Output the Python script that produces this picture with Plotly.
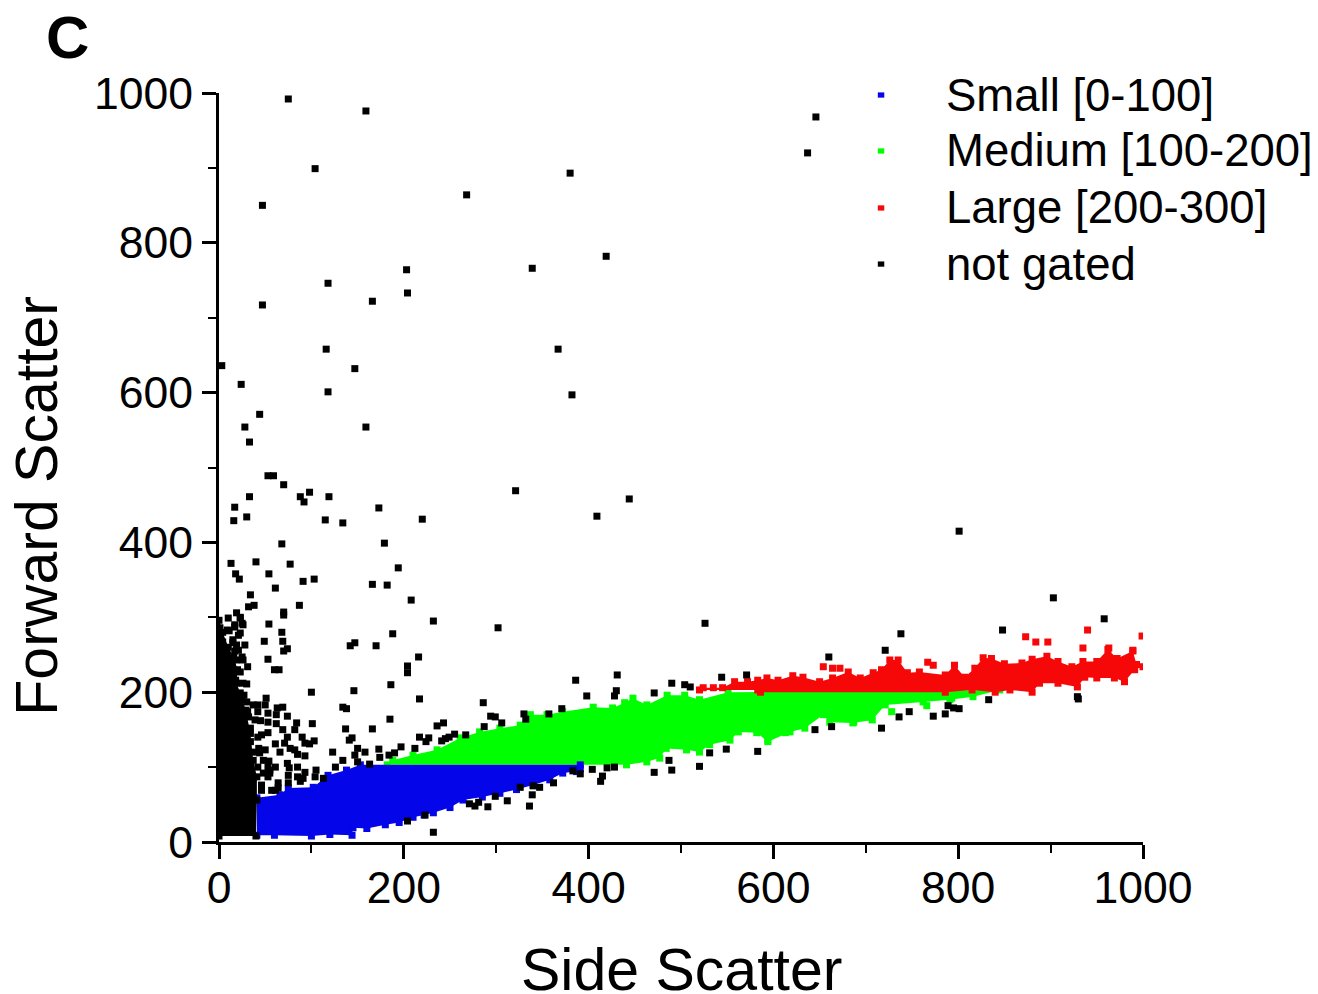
import plotly.graph_objects as go

# Panel / axis text
PANEL_LABEL = "<b>C</b>"
X_TITLE = "Side Scatter"
Y_TITLE = "Forward Scatter"
SERIES_NAMES = ["Small [0-100]", "Medium [100-200]", "Large [200-300]", "not gated"]
AXIS_TICKS = [0, 200, 400, 600, 800, 1000]
MINOR_TICKS = [100, 300, 500, 700, 900]

# The cores of the clouds are too dense to read single events, so each cloud is
# a hand-read outline (filled) plus the single events that can be read around it.
small_outline_x = [41,60,100,120,144,145,160,180,195,210,222,232,250,264,285,304,322,340,358,372,387,391,391,153,138,118,102,75,66,41]
small_outline_y = [9,9,8,10,9,19,18,23,26,33,36,39,46,56,60,65,70,76,83,92,94,98,103,103,96,89,73,72,63,59]

medium_outline_x = [182,441,463,477,484,506,520,531,553,562,582,594,618,634,654,661,686,707,721,762,791,816,845,551,520,504,485,463,448,439,426,405,372,355,337,326,304,282,261,236,210,188]
medium_outline_y = [103,103,107,112,125,123,120,130,136,147,146,134,147,152,170,160,159,163,183,187,190,194,203,200,190,196,196,183,192,186,179,180,174,170,170,156,152,147,139,123,116,109]
medium_extra_x = [728,766,793,594,613,687,704]
medium_extra_y = [174,182,192,136,146,160,167]

large_outline_x = [520,583,586,786,815,840,856,880,888,908,929,937,950,969,980,991,993,989,972,962,950,935,923,908,896,880,869,850,836,827,818,807,796,786,758,745,735,726,717,708,694,681,664,650,632,621,605,593,583,572,558,545,535,524]
large_outline_y = [203,203,200,200,203,200,203,200,212,212,207,220,219,219,214,230,237,255,245,257,241,241,234,241,248,244,239,238,245,246,232,220,236,223,227,226,243,243,230,226,219,227,219,214,220,222,216,219,216,214,214,206,206,206]
large_extra_x = [654,664,672,767,773,873,884,897,940,935,999,1000,963,989]
large_extra_y = [234,232,232,240,236,274,267,267,283,259,275,234,259,256]

dense_black_x = [0,40,41,41,37,34,29,23,19,20,16,10,4,0]
dense_black_y = [8,8,56,87,109,145,176,199,212,230,247,260,280,296]

not_gated_x = [75,159,646,637,104,380,268,47,419,203,339,118,204,166,47,3,116,367,147,24,118,382,44,159,28,33,
    53,59,70,321,444,88,98,92,119,17,33,16,30,115,134,173,409,220,801,179,68,
    13,40,77,194,18,54,22,91,103,166,182,61,34,208,87,38,32,70,70,19,10,23,54,232,302,68,188,23,11,1,69,49,147,142,170,4,74,70,17,53,216,204,204,60,65,26,31,15,
    386,431,186,26,30,100,146,430,398,428,217,51,286,134,138,42,50,42,63,69,62,53,74,31,32,371,357,330,332,294,299,306,185,45,53,62,84,82,101,69,137,166,236,243,287,53,74,90,42,144,141,217,227,224,255,249,267,245,241,103,93,98,61,71,43,77,82,66,150,173,197,212,44,85,93,123,147,158,190,184,174,48,54,134,150,126,163,74,85,61,76,105,93,85,91,75,104,113,53,64,75,88,
    404,383,391,420,428,415,413,362,347,340,326,339,299,312,336,291,271,277,281,223,204,232,
    487,471,490,520,531,549,583,645,663,717,736,747,773,786,789,795,801,833,929,930,
    471,490,504,510,544,571,660,721,738,848,903,958,526,
    17,26,15,28,21,9,19,6,23,18,27,37,39,46,50,55,46,61,
    55,57,64,48,46,53,42,39,34,34,28,25,30,25,19,23,17,25,15,21,14,10]
not_gated_y = [992,976,968,920,899,893,864,850,782,764,766,746,733,722,717,636,658,658,632,611,601,597,571,554,554,534,
    489,489,477,469,458,461,467,454,461,447,461,429,434,430,426,446,435,431,415,399,398,
    372,374,371,366,358,358,351,348,351,344,343,339,330,323,316,316,314,307,303,306,299,299,291,295,286,280,278,279,282,286,268,268,266,262,262,267,258,255,255,244,247,235,226,230,230,243,234,230,
    216,223,210,212,211,200,202,202,195,195,191,192,186,180,178,183,183,174,179,180,170,172,168,174,167,178,171,171,164,168,167,159,164,162,160,158,159,150,158,150,151,151,155,159,154,146,140,140,140,139,136,140,139,134,144,140,143,138,135,135,132,131,131,132,125,125,123,120,125,124,127,125,119,117,115,120,116,120,119,116,113,109,108,109,107,100,104,105,100,100,99,96,93,87,85,89,87,85,87,79,79,81,
    97,95,91,99,100,88,81,79,73,75,73,63,61,55,48,47,51,48,53,36,28,13,
    109,93,96,101,119,124,121,150,154,152,167,174,168,171,182,179,178,190,194,191,
    199,212,210,207,220,223,247,256,278,283,326,298,292,
    290,290,270,263,256,283,263,243,227,216,196,183,163,143,123,96,76,69,
    92,69,72,92,69,100,100,120,134,152,174,190,187,247,243,300,287,292,266,276,236,226]

BLUE = "#0505ea"
GREEN = "#00ff00"
RED = "#f70808"
BLACK = "#000000"
SERIES_COLORS = [BLUE, GREEN, RED, BLACK]
FONT = "Liberation Sans, Arial"
MARK = dict(symbol="square", size=7, line=dict(width=0))


def cloud(x, y, color, name):
    return go.Scatter(x=x, y=y, mode="markers", fill="toself", fillcolor=color, name=name,
                      marker=dict(color=color, **MARK), hoverinfo="skip", showlegend=False)


def dots(x, y, color, name):
    return go.Scatter(x=x, y=y, mode="markers", name=name, marker=dict(color=color, **MARK), showlegend=False)


fig = go.Figure([
    cloud(medium_outline_x, medium_outline_y, GREEN, SERIES_NAMES[1]),
    dots(medium_extra_x, medium_extra_y, GREEN, SERIES_NAMES[1]),
    cloud(small_outline_x, small_outline_y, BLUE, SERIES_NAMES[0]),
    cloud(large_outline_x, large_outline_y, RED, SERIES_NAMES[2]),
    dots(large_extra_x, large_extra_y, RED, SERIES_NAMES[2]),
    cloud(dense_black_x, dense_black_y, BLACK, SERIES_NAMES[3]),
    dots(not_gated_x, not_gated_y, BLACK, SERIES_NAMES[3]),
])

axis = dict(range=[0, 1000], tickmode="array", tickvals=AXIS_TICKS, ticks="outside", ticklen=14, tickwidth=3,
            tickcolor=BLACK, showline=True, linecolor=BLACK, linewidth=3, showgrid=False, zeroline=False,
            tickfont=dict(family=FONT, size=44.5, color=BLACK),
            minor=dict(tickmode="array", tickvals=MINOR_TICKS, ticks="outside", ticklen=8, tickwidth=2,
                       tickcolor=BLACK, showgrid=False))

fig.update_layout(
    width=1318, height=994, margin=dict(l=219, r=175, t=93, b=152, pad=0, autoexpand=False),
    paper_bgcolor="white", plot_bgcolor="white", showlegend=False,
    xaxis=dict(axis, ticklabelstandoff=-9),
    yaxis=dict(axis),
)

fig.add_annotation(text=PANEL_LABEL, xref="paper", yref="paper", x=-0.1895, y=1.0745, xanchor="left", yanchor="middle",
                   showarrow=False, font=dict(family=FONT, size=60, color=BLACK))
fig.add_annotation(text=Y_TITLE, xref="paper", yref="paper", x=-0.197, y=0.449, xanchor="center", yanchor="middle",
                   textangle=-90, showarrow=False, font=dict(family=FONT, size=59, color=BLACK))
fig.add_annotation(text=X_TITLE, xref="paper", yref="paper", x=0.5, y=-0.1705, xanchor="center", yanchor="middle",
                   showarrow=False, font=dict(family=FONT, size=59, color=BLACK))

legend_rows = [0.9973, 0.9226, 0.8465, 0.7716]
for name, color, row in zip(SERIES_NAMES, SERIES_COLORS, legend_rows):
    fig.add_annotation(text=name, xref="paper", yref="paper", x=0.785, y=row, xanchor="left", yanchor="middle",
                       showarrow=False, font=dict(family=FONT, size=45.5, color=BLACK))
    fig.add_shape(type="rect", xref="paper", yref="paper", x0=0.7165 - 0.0035, x1=0.7165 + 0.0035,
                  y0=row - 0.0035, y1=row + 0.0035, fillcolor=color, line=dict(width=0))

# Drop the browser's default page margin so the figure fills the 1318x994 window.
fig.write_html("out.html", config=dict(displayModeBar=False),
               post_script="document.body.style.margin='0';document.documentElement.style.overflow='hidden';")
